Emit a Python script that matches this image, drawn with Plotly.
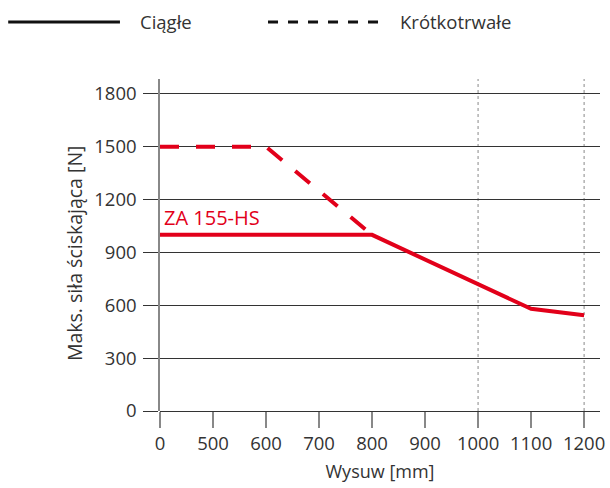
import plotly.graph_objects as go

categories = ["0", "500", "600", "700", "800", "900", "1000", "1100", "1200"]

cont_x = ["0", "800", "1100", "1200"]
cont_y = [1000, 1000, 580, 543]

short_x = ["0", "600", "800"]
short_y = [1500, 1500, 1000]

y_ticks = [0, 300, 600, 900, 1200, 1500, 1800]
dotted_x = ["1000", "1200"]

RED = "#E2001A"
TXT = "#333333"
FONT = "Open Sans"

fig = go.Figure()
fig.add_trace(go.Scatter(x=short_x, y=short_y, mode="lines",
                         line=dict(color=RED, width=4, dash="19px,17px"),
                         showlegend=False, hoverinfo="skip"))
fig.add_trace(go.Scatter(x=cont_x, y=cont_y, mode="lines",
                         line=dict(color=RED, width=4),
                         showlegend=False, hoverinfo="skip"))

shapes = []
for cx in dotted_x:
    idx = categories.index(cx)
    shapes.append(dict(type="line", xref="x", yref="paper", x0=idx, x1=idx, y0=0, y1=1,
                       line=dict(color="#888888", width=1, dash="dot"), layer="below"))
# legend (manual, long line samples)
shapes.append(dict(type="line", xref="paper", yref="paper", x0=-0.345, x1=-0.091,
                   y0=1.1717, y1=1.1717, line=dict(color="#111111", width=3)))
shapes.append(dict(type="line", xref="paper", yref="paper", x0=0.2455, x1=0.5,
                   y0=1.1717, y1=1.1717, line=dict(color="#111111", width=3, dash="10px,10px")))

annotations = [
    dict(text="Ciągłe", xref="paper", yref="paper", x=-0.05, y=1.1717, xanchor="left",
         yanchor="middle", showarrow=False, font=dict(size=18.5, color=TXT, family=FONT)),
    dict(text="Krótkotrwałe", xref="paper", yref="paper", x=0.541, y=1.1717, xanchor="left",
         yanchor="middle", showarrow=False, font=dict(size=18.5, color=TXT, family=FONT)),
    dict(text="ZA 155-HS", xref="x", yref="y", x=0, y=1010, xanchor="left", yanchor="bottom",
         xshift=2, showarrow=False, font=dict(size=20, color=RED, family=FONT)),
    dict(text="Maks. siła ściskająca [N]", xref="paper", yref="paper", x=-0.193, y=0.476,
         xanchor="center", yanchor="middle", textangle=-90, showarrow=False,
         font=dict(size=19.5, color=TXT, family=FONT)),
]

fig.update_layout(
    width=610, height=488,
    margin=dict(l=160, r=10, t=79, b=77, autoexpand=False),
    paper_bgcolor="white", plot_bgcolor="white",
    font=dict(family=FONT, size=18.5, color=TXT),
    shapes=shapes, annotations=annotations,
    showlegend=False,
)
fig.update_xaxes(type="category", categoryorder="array", categoryarray=categories,
                 range=[0, 8.3], showgrid=False, zeroline=False, automargin=False,
                 showline=False, ticks="outside", ticklen=16, tickcolor="#888888",
                 tickwidth=1.5, tickvals=categories, ticktext=categories,
                 tickfont=dict(size=18.5),
                 title=dict(text="Wysuw [mm]", standoff=11, font=dict(size=18)))
fig.update_yaxes(range=[0, 1885], tickvals=y_ticks, showgrid=True, gridcolor="#333333",
                 gridwidth=1, zeroline=True, zerolinecolor="#333333", zerolinewidth=1.2,
                 showline=True, linecolor="#888888", linewidth=1.5, automargin=False,
                 ticks="outside", ticklen=15, tickcolor="#333333", tickwidth=1,
                 ticklabelstandoff=3, tickfont=dict(size=18.5))

fig.write_html("out.html", config={"displayModeBar": False},
               post_script="document.body.style.margin='0px';")
